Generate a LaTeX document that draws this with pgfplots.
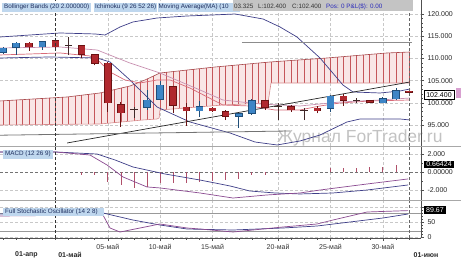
\documentclass[border=0pt]{standalone}
\usepackage{pgfplots}
\pgfplotsset{compat=1.18}
\usepackage{pgfplotstable}
\usepackage{fontspec}
\setmainfont{Liberation Sans}

\definecolor{bbnavy}{HTML}{3E3E88}
\definecolor{mpurple}{HTML}{8A4A90}
\definecolor{cloudred}{HTML}{C5565A}
\definecolor{cloudbg}{HTML}{F9E6E6}
\definecolor{tenkan}{HTML}{D86A78}
\definecolor{kijun}{HTML}{C890B0}
\definecolor{upfill}{HTML}{3D85C6}
\definecolor{upedge}{HTML}{1F4E79}
\definecolor{dnfill}{HTML}{B0282E}
\definecolor{dnedge}{HTML}{6A1212}
\definecolor{dojic}{HTML}{402828}
\definecolor{labbg}{HTML}{BFD7EE}
\definecolor{labtx}{HTML}{1E2E5E}
\definecolor{hdrgray}{HTML}{C4C4C4}
\definecolor{posblue}{HTML}{2A2ABA}
\definecolor{histc}{HTML}{B0506A}
\definecolor{gridc}{HTML}{C8C8C8}
\definecolor{sepc}{HTML}{A8A8A8}
\definecolor{axc}{HTML}{505050}
\definecolor{markpink}{HTML}{D8A0D0}

\newcommand\hdr{\fontsize{6.3}{7}\selectfont}
\newcommand\tickfont{\fontsize{7}{8}\selectfont}

\pgfplotstableread{
i v
6 -0.3
7 -0.3
8 -1.1
9 -1.4
10 -1.75
11 -1.6
12 -1.2
13 -1.2
14 -1.2
15 -1.1
16 -1.0
17 -0.85
18 -0.75
19 -0.35
20 -0.35
21 -0.05
22 -0.05
25 0.45
26 0.45
27 0.45
28 0.55
29 0.6
30 0.8
}\hist

\pgfplotsset{
  panel/.style={
    scale only axis, width=421pt, xmin=-0.23, xmax=31.91,
    anchor=south west,
    axis y line*=right, axis x line*=bottom,
    x axis line style={draw=none},
    y axis line style={draw=axc, line width=0.6pt},
    xmajorticks=false,
    xtick={8,12,16,21,25,29}, xticklabels={},
    xmajorgrids, ymajorgrids,
    major grid style={densely dashed, draw=gridc, line width=0.5pt},
    tick align=outside,
    major tick length=3pt, minor tick length=1.5pt,
    tick style={draw=axc, line width=0.5pt},
    yticklabel style={font=\tickfont, text=black!85},
    unbounded coords=jump,
    clip=true,
  },
}

\begin{document}
\begin{tikzpicture}
\useasboundingbox (0pt,0pt) rectangle (461pt,258pt);
% watermark
\node[anchor=base west, font=\fontsize{17.5}{18}\selectfont, text=black!24, inner sep=0pt] at (277pt,115.5pt) {Журнал ForTrader.ru};

%================ MAIN PANEL
\begin{axis}[panel, at={(0pt,112pt)}, height=146pt, ymin=90.27, ymax=123.15,
  ytick={95,100,105,110,115,120},
  yticklabels={95.000,100.000,105.000,110.000,115.000,120.000},
  minor y tick num=4]
% Ichimoku cloud (fill + vertical hatch)
\addplot[fill=cloudbg, draw=none] coordinates {(-0.23,100.41) (4.89,101.31) (7.40,102.21) (9.69,103.78) (10.84,105.14) (11.98,106.71) (16.18,108.06) (20.38,109.19) (24.73,110.09) (29.31,111.22) (31.07,111.44) (31.07,104.46) (20.46,104.46) (20.23,99.96) (16.79,99.50) (11.98,98.38) (11.92,96.6) (11.76,96.35) (10.69,96.13) (7.40,95.23) (-0.23,95.0)};
\addplot[draw=cloudred, line width=0.7pt] coordinates {
(0,95.01)(0,100.45)(0,nan) (0.5,95.02)(0.5,100.54)(0.5,nan) (1,95.04)(1,100.63)(1,nan) (1.5,95.05)(1.5,100.72)(1.5,nan)
(2,95.07)(2,100.81)(2,nan) (2.5,95.08)(2.5,100.89)(2.5,nan) (3,95.10)(3,100.98)(3,nan) (3.5,95.11)(3.5,101.07)(3.5,nan)
(4,95.13)(4,101.16)(4,nan) (4.5,95.14)(4.5,101.24)(4.5,nan) (5,95.16)(5,101.35)(5,nan) (5.5,95.17)(5.5,101.53)(5.5,nan)
(6,95.19)(6,101.71)(6,nan) (6.5,95.20)(6.5,101.89)(6.5,nan) (7,95.22)(7,102.07)(7,nan) (7.5,95.26)(7.5,102.28)(7.5,nan)
(8,95.39)(8,102.62)(8,nan) (8.5,95.53)(8.5,102.96)(8.5,nan) (9,95.67)(9,103.31)(9,nan) (9.5,95.80)(9.5,103.65)(9.5,nan)
(10,95.94)(10,104.15)(10,nan) (10.5,96.08)(10.5,104.74)(10.5,nan) (11,96.19)(11,105.36)(11,nan) (11.5,96.30)(11.5,106.05)(11.5,nan)
(12,98.38)(12,106.72)(12,nan) (12.5,98.50)(12.5,106.88)(12.5,nan) (13,98.62)(13,107.04)(13,nan) (13.5,98.73)(13.5,107.20)(13.5,nan)
(14,98.85)(14,107.36)(14,nan) (14.5,98.97)(14.5,107.52)(14.5,nan) (15,99.08)(15,107.68)(15,nan) (15.5,99.20)(15.5,107.84)(15.5,nan)
(16,99.32)(16,108.00)(16,nan) (16.5,99.43)(16.5,108.15)(16.5,nan) (17,99.53)(17,108.28)(17,nan) (17.5,99.60)(17.5,108.42)(17.5,nan)
(18,99.66)(18,108.55)(18,nan) (18.5,99.73)(18.5,108.68)(18.5,nan) (19,99.80)(19,108.82)(19,nan) (19.5,99.86)(19.5,108.95)(19.5,nan)
(20,99.93)(20,109.09)(20,nan) (20.5,104.46)(20.5,109.21)(20.5,nan) (21,104.46)(21,109.32)(21,nan) (21.5,104.46)(21.5,109.42)(21.5,nan)
(22,104.46)(22,109.53)(22,nan) (22.5,104.46)(22.5,109.63)(22.5,nan) (23,104.46)(23,109.73)(23,nan) (23.5,104.46)(23.5,109.84)(23.5,nan)
(24,104.46)(24,109.94)(24,nan) (24.5,104.46)(24.5,110.04)(24.5,nan) (25,104.46)(25,110.16)(25,nan) (25.5,104.46)(25.5,110.28)(25.5,nan)
(26,104.46)(26,110.40)(26,nan) (26.5,104.46)(26.5,110.53)(26.5,nan) (27,104.46)(27,110.65)(27,nan) (27.5,104.46)(27.5,110.77)(27.5,nan)
(28,104.46)(28,110.90)(28,nan) (28.5,104.46)(28.5,111.02)(28.5,nan) (29,104.46)(29,111.14)(29,nan) (29.5,104.46)(29.5,111.24)(29.5,nan)
(30,104.46)(30,111.31)(30,nan) (30.5,104.46)(30.5,111.37)(30.5,nan) (31,104.46)(31,111.43)};
\addplot[draw=cloudred!85!black, line width=0.6pt] coordinates {(-0.23,100.41) (4.89,101.31) (7.40,102.21) (9.69,103.78) (10.84,105.14) (11.98,106.71) (16.18,108.06) (20.38,109.19) (24.73,110.09) (29.31,111.22) (31.07,111.44)};
\addplot[draw=cloudred!70, line width=0.6pt] coordinates {(-0.23,95.0) (7.40,95.23) (10.69,96.13) (11.76,96.35) (11.92,96.6) (11.98,98.38) (16.79,99.50) (20.23,99.96) (20.46,104.46) (31.07,104.46)};
% Bollinger bands
\addplot[draw=bbnavy, line width=0.7pt] coordinates {(-0.23,114.82) (4.35,115.72) (7.02,115.50) (7.79,115.27) (8.93,117.07) (9.92,118.20) (11.76,119.10) (14.05,119.55) (16.03,119.78) (17.71,120.0) (19.85,118.87) (21.15,117.07) (22.44,114.82) (24.2,110.09) (25.95,104.01) (26.72,102.43) (28.78,102.21) (30.31,102.66) (31.07,103.11)};
\addplot[draw=bbnavy, line width=0.7pt] coordinates {(-0.23,110.09) (3.59,110.32) (7.18,110.09) (8.17,109.19) (9.69,105.14) (11.76,99.05) (14.27,95.68) (17.33,93.20) (19.24,91.17) (20.92,90.50) (22.67,91.40) (24.2,92.75) (26.26,95.68) (27.25,96.35) (30.31,96.35) (31.07,96.13)};
% Ichimoku lines / MA
\addplot[draw=tenkan, line width=0.7pt] coordinates {(-0.23,110.77) (4.35,111.22) (6.64,110.54) (7.40,109.19) (8.17,106.94) (9.31,105.14) (10.46,104.46) (11.76,105.14) (12.75,105.14) (14.27,103.33) (16.79,99.50) (18.85,99.28) (20.76,98.38) (22.67,98.38) (24.2,99.28) (25.73,99.96) (28.02,100.41) (31.07,100.63)};
\addplot[draw=kijun, line width=0.7pt] coordinates {(-0.23,112.34) (4.35,112.57) (7.18,111.89) (9.69,108.96) (11.98,106.71) (15.04,102.88) (16.79,100.63) (19.62,99.73) (22.67,99.28) (25.73,100.18) (28.78,100.63) (31.07,101.08)};
% trend lines
\addplot[draw=black!85, line width=0.7pt] coordinates {(4.89,90.95) (31.07,104.69)};
\addplot[draw=black!45, line width=1pt] coordinates {(18.24,113.47) (31.2,113.47)};
\addplot[draw=black!55, line width=0.8pt] coordinates {(-0.23,92.70) (21.91,93.65)};
% candle wicks
\addplot[draw=upedge, line width=0.9pt] coordinates {(0,111.1)(0,112.5)(0,nan) (1,110.8)(1,113.6)(1,nan) (3,111.9)(3,114.0)(3,nan) (11,98.4)(11,102.9)(11,nan) (12,100.6)(12,104.8)(12,nan) (15,96.8)(15,100.3)(15,nan) (18,94.3)(18,97.6)(18,nan) (19,97.3)(19,100.8)(19,nan) (25,98.0)(25,101.8)(25,nan) (29,99.9)(29,101.4)(29,nan) (30,100.6)(30,103.3)};
\addplot[draw=dnedge, line width=0.9pt] coordinates {(2,111.7)(2,113.6)(2,nan) (4,112.3)(4,114.3)(4,nan) (6,110.0)(6,113.0)(6,nan) (7,108.4)(7,111.0)(7,nan) (8,98.0)(8,109.1)(8,nan) (9,94.5)(9,100.2)(9,nan) (13,97.6)(13,103.8)(13,nan) (14,94.8)(14,100.0)(14,nan) (16,98.0)(16,99.0)(16,nan) (17,96.1)(17,98.4)(17,nan) (20,98.4)(20,100.6)(20,nan) (22,98.0)(22,99.5)(22,nan) (24,97.6)(24,99.3)(24,nan) (26,99.3)(26,102.0)(26,nan) (28,99.95)(28,100.5)(28,nan) (31,102.4)(31,103.3)};
\addplot[draw=dojic, line width=0.9pt] coordinates {(5,110.8)(5,114.9)(5,nan) (10,96.5)(10,99.0)(10,nan) (21,96.1)(21,100.0)(21,nan) (23,96.1)(23,98.8)(23,nan) (27,99.9)(27,101.0)};
% candle bodies (edge, then fill)
\addplot[draw=upedge, line width=7.6pt] coordinates {(0,111.25)(0,112.39)(0,nan) (1,112.38)(1,113.52)(1,nan) (3,112.48)(3,113.82)(3,nan) (11,98.88)(11,100.72)(11,nan) (12,100.68)(12,104.02)(12,nan) (15,98.08)(15,99.22)(15,nan) (18,96.88)(18,97.62)(18,nan) (19,97.48)(19,100.52)(19,nan) (25,98.68)(25,101.62)(25,nan) (29,99.88)(29,101.02)(29,nan) (30,100.78)(30,102.82)};
\addplot[draw=upfill, line width=6.2pt] coordinates {(0,111.37)(0,112.27)(0,nan) (1,112.5)(1,113.4)(1,nan) (3,112.6)(3,113.7)(3,nan) (11,99.0)(11,100.6)(11,nan) (12,100.8)(12,103.9)(12,nan) (15,98.2)(15,99.1)(15,nan) (18,97.0)(18,97.5)(18,nan) (19,97.6)(19,100.4)(19,nan) (25,98.8)(25,101.5)(25,nan) (29,100.0)(29,100.9)(29,nan) (30,100.9)(30,102.7)};
\addplot[draw=dnedge, line width=7.6pt] coordinates {(2,112.48)(2,113.52)(2,nan) (4,112.48)(4,114.12)(4,nan) (6,110.78)(6,112.92)(6,nan) (7,108.78)(7,110.92)(7,nan) (8,99.88)(8,109.02)(8,nan) (9,97.68)(9,99.62)(9,nan) (13,99.28)(13,103.72)(13,nan) (14,98.08)(14,99.12)(14,nan) (16,98.08)(16,98.92)(16,nan) (17,96.88)(17,98.12)(17,nan) (20,98.88)(20,100.52)(20,nan) (22,98.28)(22,99.22)(22,nan) (24,98.08)(24,98.92)(24,nan) (26,100.48)(26,101.62)(26,nan) (28,99.98)(28,100.52)(28,nan) (31,102.28)(31,102.72)};
\addplot[draw=dnfill, line width=6.2pt] coordinates {(2,112.6)(2,113.4)(2,nan) (4,112.6)(4,114.0)(4,nan) (6,110.9)(6,112.8)(6,nan) (7,108.9)(7,110.8)(7,nan) (8,100.0)(8,108.9)(8,nan) (9,97.8)(9,99.5)(9,nan) (13,99.4)(13,103.6)(13,nan) (14,98.2)(14,99.0)(14,nan) (16,98.2)(16,98.8)(16,nan) (17,97.0)(17,98.0)(17,nan) (20,99.0)(20,100.4)(20,nan) (22,98.4)(22,99.1)(22,nan) (24,98.2)(24,98.8)(24,nan) (26,100.6)(26,101.5)(26,nan) (28,100.1)(28,100.4)(28,nan) (31,102.4)(31,102.6)};
\addplot[draw=dojic, line width=7.6pt] coordinates {(5,112.92)(5,113.08)(5,nan) (10,98.42)(10,98.58)(10,nan) (21,99.22)(21,99.38)(21,nan) (23,98.32)(23,98.48)(23,nan) (27,100.42)(27,100.58)};
% date lines
\addplot[densely dashed, draw=black!80, line width=0.6pt] coordinates {(3.97,90.27) (3.97,123.15)};
\addplot[densely dashed, draw=black!60, line width=0.6pt] coordinates {(31.0,90.27) (31.0,123.15)};
\end{axis}

%================ MACD PANEL
\begin{axis}[panel, at={(0pt,58pt)}, height=53pt, ymin=-3.08, ymax=2.81,
  ytick={-2,0,2}, yticklabels={-2.000,0.00000,2.000}, minor y tick num=1]
\addplot[densely dashed, draw=black!55, line width=0.5pt] coordinates {(-0.23,0) (31.91,0)};
\addplot[ycomb, draw=histc, line width=0.8pt, mark=none] table[x=i, y=v] {\hist};
\addplot[draw=bbnavy, line width=0.7pt] coordinates {(-0.23,2.26) (3.97,2.26) (7.18,2.03) (8.55,1.37) (9.92,0.59) (12.37,-0.19) (15.04,-0.86) (17.33,-1.52) (18.85,-2.08) (20.76,-2.30) (22.67,-2.41) (25.19,-2.30) (27.79,-1.97) (30.92,-1.41)};
\addplot[draw=mpurple, line width=0.7pt] coordinates {(-0.23,2.26) (3.97,2.26) (6.64,1.92) (7.94,0.81) (9.16,-0.52) (10.99,-1.63) (11.98,-1.74) (15.04,-2.30) (17.56,-2.86) (20.15,-2.52) (22.67,-2.30) (24.2,-1.97) (27.79,-1.30) (30.92,-0.74)};
\addplot[densely dashed, draw=black!80, line width=0.6pt] coordinates {(3.97,-3.08) (3.97,2.81)};
\addplot[densely dashed, draw=black!60, line width=0.6pt] coordinates {(31.0,-3.08) (31.0,2.81)};
\end{axis}

%================ STOCHASTIC PANEL
\begin{axis}[panel, at={(0pt,20pt)}, height=37pt, ymin=-1.67, ymax=121.67,
  ytick={0,50,100}, yticklabels={0,50,{}}, minor y tick num=4,
  x axis line style={draw=axc, line width=0.6pt},
  xmajorticks=true,
  minor xtick={0,1,...,31},
  xticklabels={05-май,10-май,15-май,20-май,25-май,30-май},
  xticklabel style={font=\tickfont, text=black!80}]
\addplot[draw=black!40, line width=0.6pt] coordinates {(-0.23,80) (31.91,80)};
\addplot[draw=black!40, line width=0.6pt] coordinates {(-0.23,20) (31.91,20)};
\addplot[draw=bbnavy, line width=0.7pt] coordinates {(-0.23,78) (7.63,81.7) (9.92,58.3) (11.98,41.7) (14.05,28.3) (17.56,25) (21.37,31.7) (23.97,38.3) (26.49,51.7) (29.0,65) (30.92,78.3)};
\addplot[draw=mpurple, line width=0.7pt] coordinates {(-0.23,71.7) (7.63,75) (8.17,31.7) (8.93,18.3) (10.46,31.7) (11.98,45) (14.05,31.7) (15.04,28.3) (17.56,18.3) (19.08,25) (21.37,35) (23.97,45) (25.19,58.3) (27.79,85) (29.77,88) (30.92,89.67)};
\addplot[densely dashed, draw=black!80, line width=0.6pt] coordinates {(3.97,-1.67) (3.97,121.67)};
\addplot[densely dashed, draw=black!60, line width=0.6pt] coordinates {(31.0,-1.67) (31.0,121.67)};
\end{axis}

%================ decorations
\begin{scope}[x=1pt,y=1pt]
\fill[sepc] (0,111) rectangle (461,112.2);
\fill[sepc] (0,57) rectangle (461,58.2);
% header
\fill[labbg] (2,246) rectangle (91,255.5);
\node[anchor=west, inner sep=0, font=\hdr, text=labtx] at (4,250.7) {Bollinger Bands (20 2.000000)};
\fill[labbg] (93.5,246) rectangle (157,255.5);
\node[anchor=west, inner sep=0, font=\hdr, text=labtx] at (95,250.7) {Ichimoku (9 26 52 26)};
\fill[labbg] (157.5,246) rectangle (240,255.5);
\node[anchor=west, inner sep=0, font=\hdr, text=labtx] at (158.5,250.7) {Moving Average(MA) (10};
\fill[hdrgray] (233,247) rectangle (413,258);
\node[anchor=west, inner sep=0, font=\hdr, text=black!80] at (234,251.5) {03.325};
\node[anchor=west, inner sep=0, font=\hdr, text=black!80] at (258,251.5) {L:102.400};
\node[anchor=west, inner sep=0, font=\hdr, text=black!80] at (292,251.5) {C:102.400};
\node[anchor=west, inner sep=0, font=\hdr, text=posblue] at (326,251.5) {Pos: 0 P\&L(\$): 0.00};
% panel labels
\fill[labbg] (3,99.5) rectangle (53,108);
\node[anchor=west, inner sep=0, font=\hdr, text=labtx] at (5,103.7) {MACD (12 26 9)};
\fill[labbg] (3,42.5) rectangle (104,50.5);
\node[anchor=west, inner sep=0, font=\hdr, text=labtx] at (5,46.5) {Full Stochastic Oscillator (14 2 8)};
% value boxes
\draw[black, fill=white, line width=0.6pt] (424,159) rectangle (454,167.5);
\node[inner sep=0, font=\tickfont] at (439,163.2) {102.400};
\fill[markpink] (456,160) rectangle (461,170);
\fill[black] (424,89.7) rectangle (454,97.5);
\node[inner sep=0, font=\tickfont, text=white] at (439,93.6) {0.66424};
\fill[black] (424,44) rectangle (446,52.3);
\node[inner sep=0, font=\tickfont, text=white] at (435,48.2) {89.67};
% month labels
\node[inner sep=0, font=\bfseries\tickfont, text=black!85] at (26.5,3) {01-апр};
\node[inner sep=0, font=\bfseries\tickfont, text=black!85] at (70,3) {01-май};
\node[inner sep=0, font=\bfseries\tickfont, text=black!85] at (426,3) {01-июн};
\end{scope}
\end{tikzpicture}
\end{document}
